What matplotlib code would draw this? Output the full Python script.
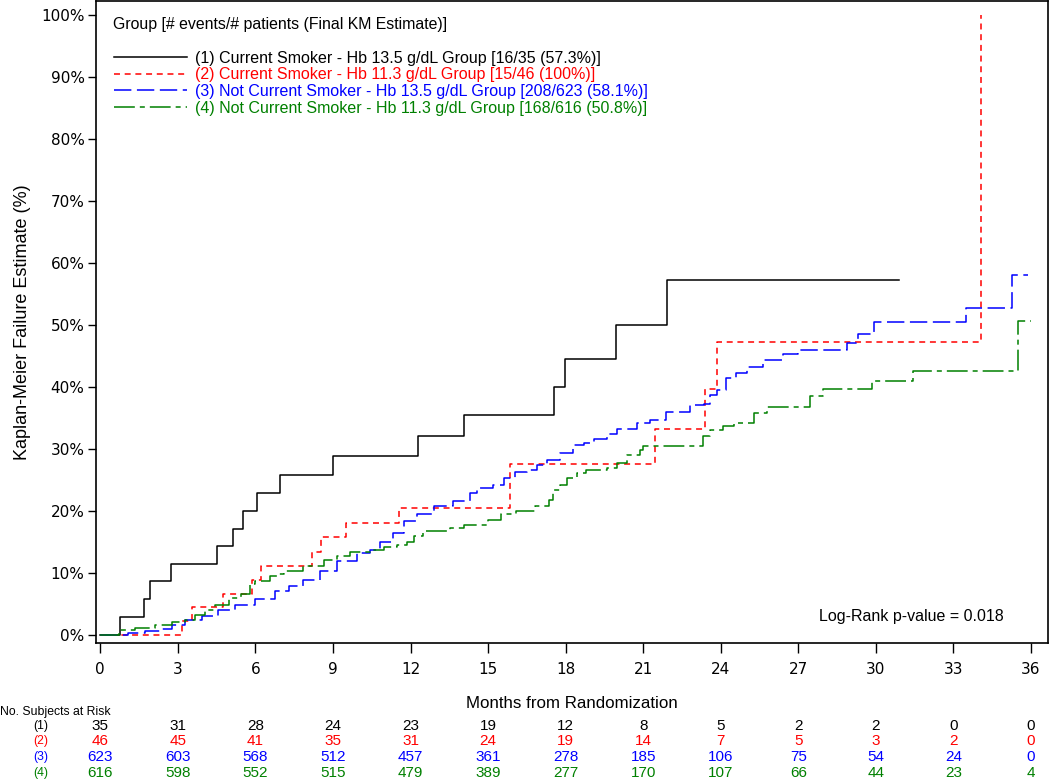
import matplotlib
matplotlib.use('Agg')
import matplotlib.pyplot as plt
from matplotlib.transforms import blended_transform_factory
from matplotlib.lines import Line2D

plt.rcParams['lines.scale_dashes'] = False
plt.rcParams['font.family'] = ['DejaVu Sans']

# ---------------- data ----------------
group_labels = [
    "(1) Current Smoker - Hb 13.5 g/dL Group [16/35 (57.3%)]",
    "(2) Current Smoker - Hb 11.3 g/dL Group [15/46 (100%)]",
    "(3) Not Current Smoker - Hb 13.5 g/dL Group [208/623 (58.1%)]",
    "(4) Not Current Smoker - Hb 11.3 g/dL Group [168/616 (50.8%)]",
]
group_colors = ['black', '#FF0000', '#0000FF', '#008000']

# group 1 (step times in months, KM failure estimate in %)
t1 = [0, 0.77, 1.68, 1.93, 2.72, 4.5, 5.15, 5.51, 6.07, 6.94, 9.0, 12.3, 14.05,
      17.55, 17.96, 19.95, 21.93]
v1 = [0, 2.9, 5.7, 8.6, 11.4, 14.3, 17.1, 20.0, 22.9, 25.7, 28.8, 32.0, 35.4,
      40.0, 44.5, 50.0, 57.3]
end1 = 30.88

# group 2
t2 = [0, 3.18, 3.53, 4.73, 5.87, 6.21, 8.18, 8.55, 9.52, 11.54, 15.85, 21.46,
      23.38, 23.85, 34.07]
v2 = [0, 2.2, 4.4, 6.6, 8.8, 11.0, 13.4, 15.7, 18.0, 20.4, 27.6, 33.2, 39.7,
      47.3, 100.0]
end2 = 34.07

# group 3
t3 = [0, 1.08, 1.74, 2.39, 2.77, 3.29, 3.93, 4.57, 5.22, 6.0, 6.77, 7.3, 7.86,
      8.5, 9.15, 9.93, 10.44, 10.83, 11.34, 11.73, 12.25, 12.9, 13.66, 14.3,
      14.57, 15.2, 15.6, 16.05, 16.5, 16.9, 17.27, 17.8, 18.3, 18.7, 19.08,
      19.6, 19.98, 20.75, 21.27, 21.9, 22.8, 23.36, 23.6, 23.85, 24.2, 24.6,
      25.0, 25.65, 26.4, 27.0, 28.9, 29.3, 29.93, 33.5, 35.25]
v3 = [0, 0.2, 0.5, 0.9, 1.6, 2.3, 3.0, 4.0, 4.8, 5.7, 7.0, 7.8, 8.8,
      10.2, 11.8, 13.2, 13.7, 15.0, 16.4, 18.3, 19.4, 20.7, 21.5, 22.9,
      23.7, 24.2, 25.3, 26.3, 26.6, 27.4, 28.2, 29.3, 30.6, 31.0, 31.5,
      32.3, 33.2, 34.1, 34.7, 35.9, 37.0, 37.3, 38.7, 39.5, 41.4, 42.2,
      43.2, 44.4, 45.3, 46.0, 47.0, 48.5, 50.4, 52.7, 58.1]
end3 = 35.9

# group 4
t4 = [0, 0.71, 1.35, 2.13, 2.77, 3.29, 3.67, 4.06, 4.45, 4.96, 5.45, 5.8, 6.0,
      6.57, 6.9, 7.09, 7.86, 8.64, 9.15, 9.67, 10.44, 10.96, 11.47, 11.86,
      12.12, 12.5, 13.53, 14.05, 15.0, 15.5, 16.1, 16.8, 17.35, 17.53, 17.8,
      18.05, 18.43, 18.8, 19.6, 19.98, 20.37, 20.88, 21.0, 23.3, 23.6, 24.1,
      24.5, 25.3, 25.8, 27.46, 27.97, 29.84, 31.45, 35.5]
v4 = [0, 0.8, 1.1, 1.6, 2.1, 2.4, 3.2, 4.0, 4.8, 5.9, 6.6, 8.1, 8.6,
      9.4, 9.8, 10.2, 11.1, 12.1, 12.7, 13.4, 13.6, 14.1, 14.5, 15.0,
      15.9, 16.7, 17.2, 17.7, 18.5, 19.4, 19.9, 20.7, 21.8, 23.4, 24.2,
      25.3, 26.1, 26.6, 26.9, 27.7, 29.0, 29.8, 30.4, 32.0, 33.1, 33.7,
      34.1, 35.8, 36.7, 38.5, 39.6, 40.9, 42.6, 50.6]
end4 = 36.0

risk_months = [0, 3, 6, 9, 12, 15, 18, 21, 24, 27, 30, 33, 36]
risk1 = [35, 31, 28, 24, 23, 19, 12, 8, 5, 2, 2, 0, 0]
risk2 = [46, 45, 41, 35, 31, 24, 19, 14, 7, 5, 3, 2, 0]
risk3 = [623, 603, 568, 512, 457, 361, 278, 185, 106, 75, 54, 24, 0]
risk4 = [616, 598, 552, 515, 479, 389, 277, 170, 107, 66, 44, 23, 4]

y_ticks = [0, 10, 20, 30, 40, 50, 60, 70, 80, 90, 100]
y_ticklabels = ['0%', '10%', '20%', '30%', '40%', '50%', '60%', '70%', '80%', '90%', '100%']

# ---------------- figure ----------------
W, H = 1050, 779
fig = plt.figure(figsize=(W / 100, H / 100), dpi=100)
ax = fig.add_axes([96 / W, 1 - 643 / H, (1048 - 96) / W, (643 - 1) / H])

styles = [
    dict(linestyle='-'),
    dict(linestyle=(0, (4.3, 3.4))),
    dict(linestyle=(0, (12.5, 4.0))),
    dict(linestyle=(0, (15.0, 3.6, 3.6, 3.6))),
]
series = [(t1, v1, end1), (t2, v2, end2), (t3, v3, end3), (t4, v4, end4)]
handles = []
for (t, v, e), col, st in zip(series, group_colors, styles):
    tt = list(t) + [e]
    vv = list(v) + [v[-1]]
    ax.step(tt, vv, where='post', color=col, lw=1.1, **st)
    handles.append(Line2D([0], [0], color=col, lw=1.1, **st))

ax.set_xlim(-0.166, 36.66)
ax.set_ylim(-1.37, 102.3)
ax.set_xticks(risk_months)
ax.set_xticklabels([str(m) for m in risk_months])
ax.set_yticks(y_ticks)
ax.set_yticklabels(y_ticklabels)
ax.tick_params(axis='both', direction='out', labelsize=11, width=1.0, color='black')
ax.tick_params(axis='y', length=6, pad=2.2)
ax.tick_params(axis='x', length=7, pad=7)
for sp in ax.spines.values():
    sp.set_linewidth(1.2)
    sp.set_color('black')

lab_font = dict(family='Liberation Sans')
ax.set_ylabel('Kaplan-Meier Failure Estimate (%)', fontsize=13, **lab_font)
ax.yaxis.set_label_coords((31 - 96) / 952, 0.5)
ax.set_xlabel('Months from Randomization', fontsize=12.2, **lab_font)
ax.xaxis.set_label_coords(0.5, (643 - 696) / 642)

# legend
ax.text((113 - 96) / 952, 1 - (25 - 1) / 642,
        'Group [# events/# patients (Final KM Estimate)]',
        transform=ax.transAxes, ha='left', va='center', fontsize=11.4, **lab_font)
leg = ax.legend(handles, group_labels, loc='upper left',
                bbox_to_anchor=((114 - 96) / 952, 1 - (50.5 - 1) / 642),
                frameon=False, borderpad=0, borderaxespad=0,
                handlelength=4.6, handletextpad=0.5, labelspacing=0.11,
                prop=dict(family='Liberation Sans', size=11.5))
for txt, col in zip(leg.get_texts(), group_colors):
    txt.set_color(col)

ax.text((911 - 96) / 952, 1 - (617 - 1) / 642, 'Log-Rank p-value = 0.018',
        transform=ax.transAxes, ha='center', va='center', fontsize=11.5, **lab_font)

# at-risk table
tr = blended_transform_factory(ax.transData, fig.transFigure)
fig.text(0.0, 1 - 712 / H, 'No. Subjects at Risk', ha='left', va='center',
         fontsize=8.8, **lab_font)
row_y = [726, 741, 757, 773]
for i, (risk, col) in enumerate(zip([risk1, risk2, risk3, risk4], group_colors)):
    y = 1 - row_y[i] / H
    fig.text(41 / W, y, '(%d)' % (i + 1), ha='center', va='center', fontsize=8.8,
             color=col, **lab_font)
    for m, n in zip(risk_months, risk):
        ax.text(m, y, str(n), transform=tr, ha='center', va='center',
                fontsize=11, color=col, clip_on=False, **lab_font)

fig.savefig('out.png', dpi=100)
